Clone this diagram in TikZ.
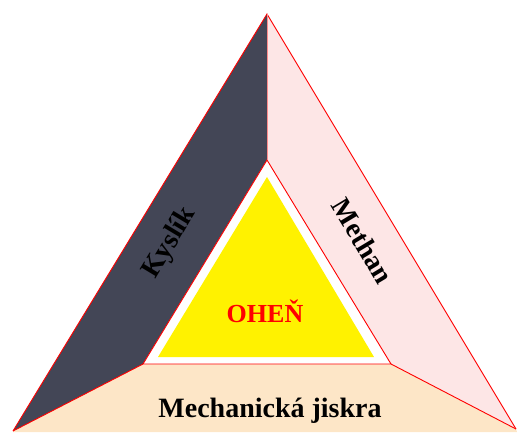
\documentclass[tikz,border=0pt]{standalone}
\usepackage{fontspec}
\setmainfont{Liberation Serif}
\usetikzlibrary{positioning, calc}

\definecolor{slate}{RGB}{67,70,86}
\definecolor{pinkish}{RGB}{253,230,230}
\definecolor{beige}{RGB}{253,230,199}

\begin{document}
\begin{tikzpicture}[
  x=1pt, y=-1pt,
  panel/.style={draw=red, line width=0.9pt, line join=miter},
  label/.style={font=\fontsize{28}{31}\selectfont\bfseries, text=black, inner sep=0pt},
  core/.style={font=\fontsize{26}{29}\selectfont\bfseries, text=red, inner sep=0pt}
]
\useasboundingbox (0,0) rectangle (517,432);

% outer and inner corners of the triangle
\coordinate (top) at (267,14);
\coordinate (bl)  at (13,431);
\coordinate (br)  at (516,429);
\coordinate (itop) at (267,160);
\coordinate (ibl) at (143,364);
\coordinate (ibr) at (391,364);

% three sides
\fill[beige] (bl) -- (ibl) -- (ibr) -- (br) -- (517,432) -- (13,432) -- cycle;
\fill[slate] (top) -- (itop) -- (ibl) -- (bl) -- cycle;
\fill[pinkish] (top) -- (br) -- (ibr) -- (itop) -- cycle;
\fill[white] (itop) -- (ibl) -- (ibr) -- cycle;

% the fire in the middle
\fill[yellow] (267,177) -- (158,357) -- (374,357) -- cycle;

% red edges
\draw[panel] (bl) -- (top) -- (br);
\draw[panel] (itop) -- (ibl) -- (ibr) -- cycle;
\draw[panel] (bl) -- (ibl);
\draw[panel] (br) -- (ibr);
\draw[red!45, line width=0.8pt] (top) -- (itop);

% texts
\node[label, rotate=59]  (kyslik) at (170,243) {Kyslík};
\node[label, rotate=-59] (methan) at (363,241) {Methan};
\node[label, anchor=base] (jiskra) at (270,417) {Mechanická jiskra};
\node[core, anchor=base]  (ohen)   at (265,322) {OHEŇ};

\end{tikzpicture}
\end{document}
